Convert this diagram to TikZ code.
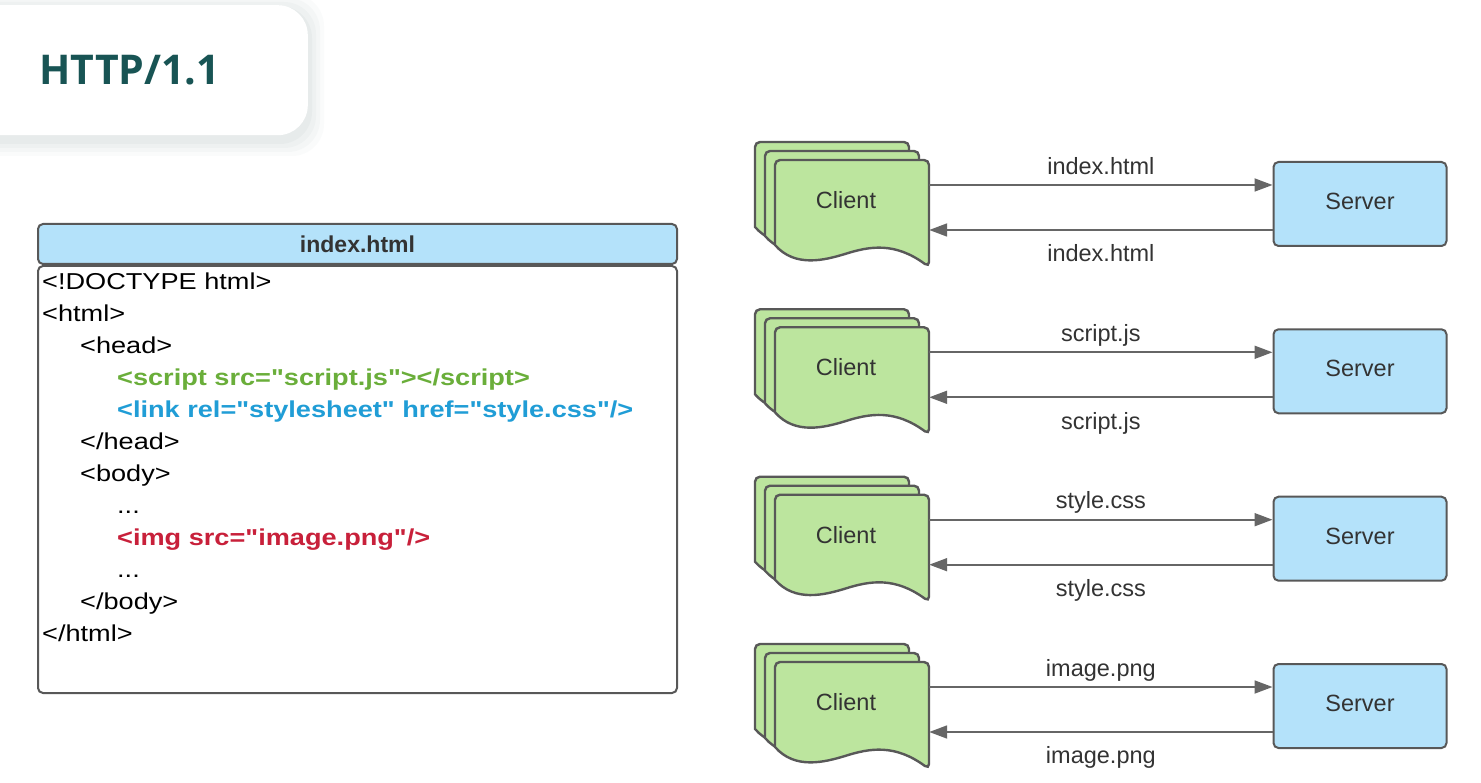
\documentclass[tikz,border=0pt]{standalone}
\usepackage{fontspec}
\setmainfont{Liberation Sans}
\newfontfamily\codefont{Liberation Sans}[FakeStretch=1.18, Ligatures=TeXOff]
\newfontfamily\titlefont{Open Sans}
\usetikzlibrary{arrows.meta}

\definecolor{hdrblue}{RGB}{180,226,250}
\definecolor{clientgreen}{RGB}{188,229,158}
\definecolor{boxgray}{RGB}{88,88,88}
\definecolor{arrgray}{RGB}{102,102,102}
\definecolor{txtgray}{RGB}{51,51,51}
\definecolor{titleteal}{RGB}{24,84,84}
\definecolor{shadowgray}{RGB}{150,172,172}
\definecolor{codegreen}{RGB}{106,174,58}
\definecolor{codeblue}{RGB}{32,157,214}
\definecolor{codered}{RGB}{200,32,58}

\tikzset{
  box/.style={draw=boxgray, line width=2pt, rounded corners=5pt},
  server/.style={box, fill=hdrblue, minimum width=173pt, minimum height=84pt,
    text height=17pt, text depth=6pt, font=\fontsize{23.5}{26}\selectfont, text=txtgray},
  clienttxt/.style={minimum width=166pt, inner sep=0pt,
    font=\fontsize{23.5}{26}\selectfont, text=txtgray},
  page/.style={draw=boxgray, line width=2.4pt, fill=clientgreen},
  arr/.style={draw=arrgray, line width=1.8pt, -{Triangle[length=18pt,width=13pt]}},
  lbl/.style={inner sep=0pt, text height=16pt, text depth=5pt,
    font=\fontsize{23.5}{26}\selectfont, text=txtgray},
  codeline/.style={anchor=west, inner sep=0pt, text height=16pt, text depth=5pt,
    font=\codefont\fontsize{23}{27}\selectfont},
  boldline/.style={codeline, font=\codefont\bfseries\fontsize{23}{27}\selectfont},
  pics/clientpage/.style={code={
    \foreach \d in {20,10,0}{
      \begin{scope}[shift={(-\d,-0.9*\d)}]
        \draw[page] (0,85) [rounded corners=5pt] -- (0,0) -- (154,0) -- (154,107)
          [sharp corners] .. controls (120,82) and (95,86) .. (70,94)
          .. controls (50,100) and (20,108) .. (0,85) -- cycle;
      \end{scope}}
  }}
}

\begin{document}
\begin{tikzpicture}[x=1pt,y=-1pt]
\useasboundingbox (0,0) rectangle (1481,783);
\fill[white] (0,0) rectangle (1481,783);

\foreach \s/\o in {16/0.04,12/0.05,8/0.06,4/0.08}
  \fill[shadowgray, opacity=\o, rounded corners=32pt] (-60,{5-\s+5}) rectangle ({308+\s},{135+\s+5});
\node[fill=white, rounded corners=30pt, minimum width=368pt, minimum height=130pt,
  anchor=north east] (titlebox) at (308,5) {};
\node[anchor=west, inner sep=0pt, text=titleteal, font=\titlefont\bfseries\fontsize{41}{46}\selectfont]
  (title) at (39,70) {HTTP/1.1};

\node[box, fill=hdrblue, minimum width=639pt, minimum height=40pt, anchor=north west,
  font=\bfseries\fontsize{23}{26}\selectfont, text=txtgray] (hdr) at (37,223) {index.html};
\node[box, fill=white, minimum width=639pt, minimum height=427pt, anchor=north west]
  (body) at (hdr.south west) {};

\node[codeline] (doctype) at (42,284) {<!DOCTYPE html>};
\node[codeline] (html) at (42,316) {<html>};
\node[codeline] (head) at (80,348) {<head>};
\node[boldline, codegreen] (script) at (117,380) {<script src="script.js"></script>};
\node[boldline, codeblue] (link) at (117,412) {<link rel="stylesheet" href="style.css"/>};
\node[codeline] (headend) at (80,444) {</head>};
\node[codeline] (bodytag) at (80,476) {<body>};
\node[codeline] (dots1) at (117,508) {...};
\node[boldline, codered] (img) at (117,540) {<img src="image.png"/>};
\node[codeline] (dots2) at (117,572) {...};
\node[codeline] (bodyend) at (80,604) {</body>};
\node[codeline] (htmlend) at (42,636) {</html>};

\foreach \i/\y/\f in {1/0/index.html, 2/167.3/script.js, 3/334.7/style.css, 4/502/image.png}{
  \pic at (775,{160+\y}) {clientpage};
  \node[clienttxt] (c\i) at (846,{200+\y}) {Client};
  \node[server] (s\i) at (1360,{204+\y}) {Server};
  \coordinate (t\i) at (0,{185+\y});
  \coordinate (b\i) at (0,{230+\y});
  \draw[arr] (c\i.east |- t\i) -- node[lbl, above=5pt] {\f} (s\i.west |- t\i);
  \draw[arr] (s\i.west |- b\i) -- node[lbl, below=15pt] {\f} (c\i.east |- b\i);
}
\end{tikzpicture}
\end{document}
